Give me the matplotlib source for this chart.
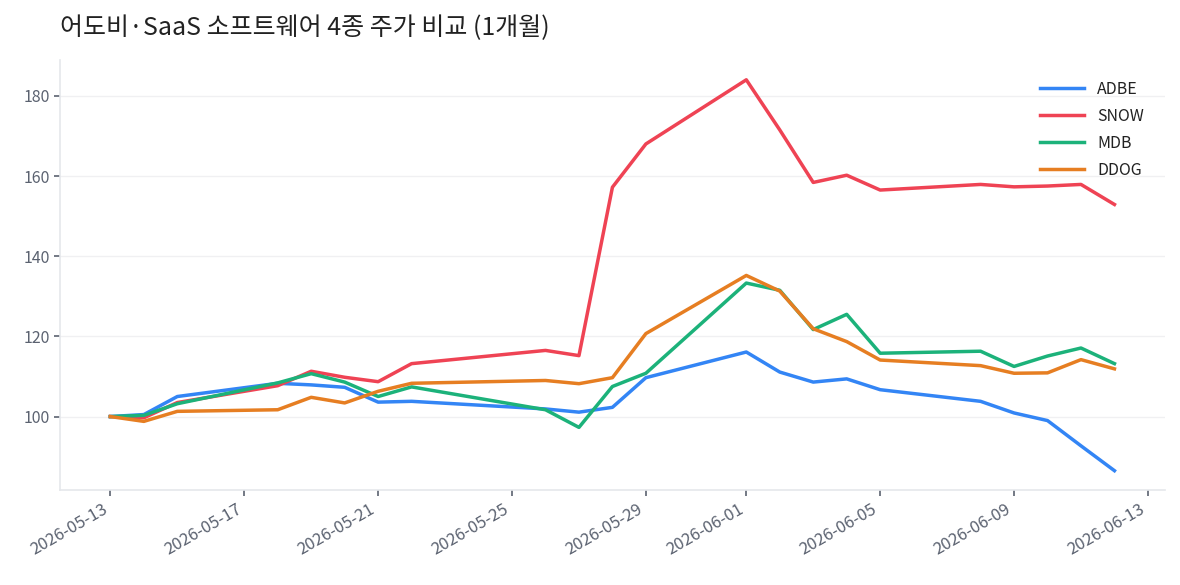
import matplotlib
matplotlib.use("Agg")
import matplotlib.pyplot as plt
import matplotlib.dates as mdates
import pandas as pd

plt.rcParams['font.family'] = ['Noto Sans CJK KR', 'DejaVu Sans']

# 데이터 (기준일 = 100)
dates = pd.to_datetime([
    '2026-05-13', '2026-05-14', '2026-05-15', '2026-05-18', '2026-05-19',
    '2026-05-20', '2026-05-21', '2026-05-22', '2026-05-26', '2026-05-27',
    '2026-05-28', '2026-05-29', '2026-06-01', '2026-06-02', '2026-06-03',
    '2026-06-04', '2026-06-05', '2026-06-08', '2026-06-09', '2026-06-10',
    '2026-06-11', '2026-06-12',
])
adbe = [100, 100.5, 105, 108.3, 107.9, 107.3, 103.6, 103.8, 101.9, 101.1,
        102.3, 109.7, 116.1, 111.1, 108.6, 109.4, 106.7, 103.8, 100.9, 99.0,
        92.7, 86.5]
snow = [100, 99.7, 103.5, 107.7, 111.3, 109.8, 108.7, 113.2, 116.5, 115.2,
        157.2, 168.0, 184.0, 171.5, 158.4, 160.2, 156.5, 157.9, 157.3, 157.5,
        157.9, 152.9]
mdb = [100, 100.3, 103.2, 108.4, 110.7, 108.6, 105.0, 107.4, 101.7, 97.3,
       107.5, 110.8, 133.3, 131.5, 121.7, 125.5, 115.8, 116.3, 112.5, 115.1,
       117.1, 113.2]
ddog = [100, 98.8, 101.3, 101.7, 104.8, 103.4, 106.3, 108.3, 109.0, 108.2,
        109.7, 120.7, 135.2, 131.3, 121.9, 118.7, 114.1, 112.7, 110.8, 110.9,
        114.2, 111.9]

tickers = ['ADBE', 'SNOW', 'MDB', 'DDOG']
colors = ['#3385f5', '#ef4354', '#1cb27a', '#e67e22']

fig, ax = plt.subplots(figsize=(11.8, 5.85), dpi=100)

for name, vals, c in zip(tickers, [adbe, snow, mdb, ddog], colors):
    ax.plot(dates, vals, color=c, linewidth=2.5, label=name)

ax.set_title('어도비·SaaS 소프트웨어 4종 주가 비교 (1개월)', loc='left',
             fontsize=18, color='#222222', pad=18)

ax.xaxis.set_major_locator(mdates.DayLocator(bymonthday=[1, 5, 9, 13, 17, 21, 25, 29]))
ax.xaxis.set_major_formatter(mdates.DateFormatter('%Y-%m-%d'))
plt.setp(ax.get_xticklabels(), rotation=30, ha='right')

ax.grid(axis='y', color='#f0f0f2', linewidth=1)
ax.set_axisbelow(True)
for s in ['top', 'right']:
    ax.spines[s].set_visible(False)
for s in ['left', 'bottom']:
    ax.spines[s].set_color('#e5e7eb')
    ax.spines[s].set_linewidth(1.2)
ax.tick_params(colors='#5b6270', labelsize=12, length=4, width=1.2)
ax.tick_params(axis='y', labelsize=11.5)

leg = ax.legend(loc='upper right', frameon=False, fontsize=11.5, handlelength=2.8,
                labelspacing=0.62, borderaxespad=0.9)
for t in leg.get_texts():
    t.set_color('#222222')

fig.subplots_adjust(left=0.051, right=0.987, top=0.897, bottom=0.162)
fig.savefig('out.png', dpi=100)
